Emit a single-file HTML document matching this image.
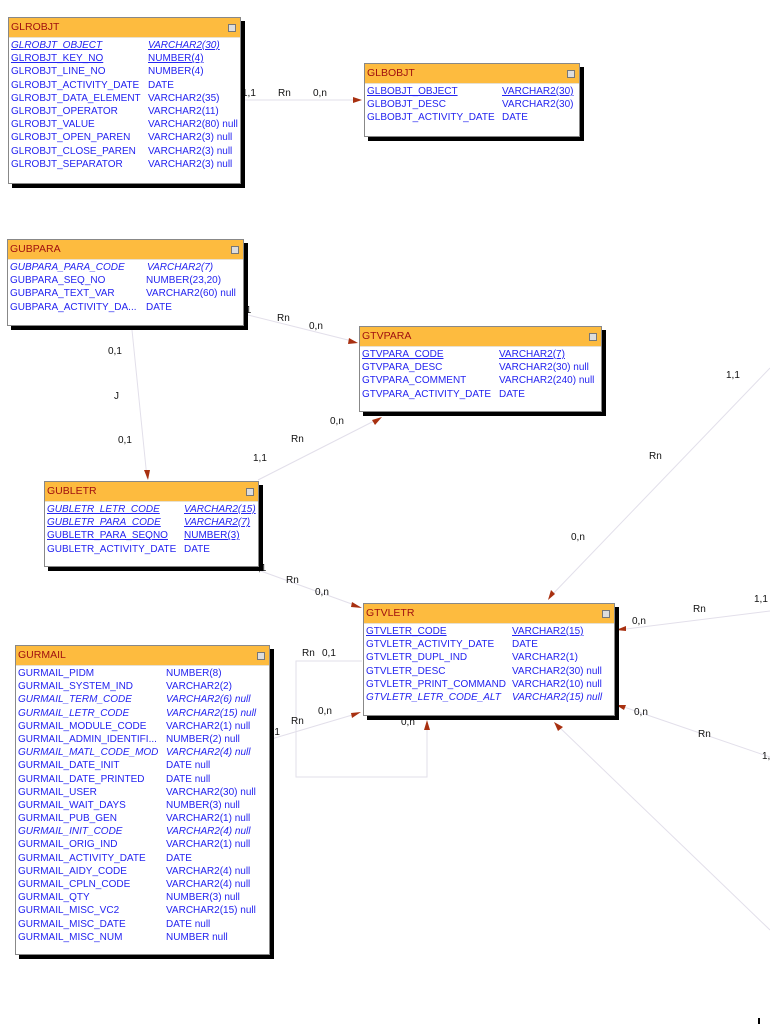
<!DOCTYPE html>
<html><head><meta charset="utf-8">
<style>
html,body{margin:0;padding:0;background:#fff;width:770px;height:1024px;overflow:hidden;position:relative;font-family:"Liberation Sans",sans-serif;}
.t{position:absolute;background:#fff;border:1px solid #888;box-shadow:4px 4px 0 #000;}
.h{height:19px;background:#fdbb3f;color:#a01010;font-size:10.5px;line-height:19px;padding-left:2px;border-bottom:1px solid #e8e0d0;position:relative;}
.h i{position:absolute;right:4px;top:6px;width:6px;height:6px;background:#ddd;border:1px solid #777;}
.r{position:relative;height:13.2px;line-height:13.2px;font-size:10px;color:#2424f0;white-space:nowrap;padding-left:2px;}
.r b{font-weight:normal;position:absolute;}
.u{text-decoration:underline;}
.it{font-style:italic;}
.l{position:absolute;font-size:10px;color:#111;white-space:nowrap;}
svg{position:absolute;left:0;top:0;}
</style></head><body>
<svg width="770" height="1024">
<g stroke="#e2dfea" stroke-width="1" fill="none">
<line x1="240" y1="100" x2="360" y2="100"/>
<line x1="244" y1="314" x2="356" y2="342"/>
<line x1="132" y1="330" x2="147" y2="478"/>
<line x1="258" y1="480" x2="380" y2="418"/>
<line x1="258" y1="570" x2="360" y2="607"/>
<line x1="770" y1="368" x2="549" y2="598"/>
<line x1="770" y1="611" x2="618" y2="630"/>
<line x1="268" y1="740" x2="359" y2="713"/>
<polyline points="362,661 296,661 296,777 427,777 427,724"/>
<line x1="618" y1="705" x2="770" y2="757"/>
<line x1="556" y1="724" x2="770" y2="930"/>
</g>
<g fill="#a83010">
<polygon points="362,100 353,97 353,103"/>
<polygon points="358,343 349,338 348,344"/>
<polygon points="148,480 144,470 150,470"/>
<polygon points="382,417 372,420 375,425"/>
<polygon points="362,608 352,602 351,607"/>
<polygon points="548,600 551,590 555,594"/>
<polygon points="616,630 626,626 626,631"/>
<polygon points="361,712 351,713 352,718"/>
<polygon points="427,720 424,730 430,730"/>
<polygon points="616,705 626,705 624,710"/>
<polygon points="554,722 558,731 563,727"/>
</g>
<rect x="758" y="1018" width="2" height="6" fill="#000"/>
</svg>

<div class="l" style="left:242px;top:88px">1,1</div>
<div class="l" style="left:278px;top:88px">Rn</div>
<div class="l" style="left:313px;top:88px">0,n</div>
<div class="l" style="left:243px;top:305px">,1</div>
<div class="l" style="left:277px;top:313px">Rn</div>
<div class="l" style="left:309px;top:321px">0,n</div>
<div class="l" style="left:108px;top:346px">0,1</div>
<div class="l" style="left:114px;top:391px">J</div>
<div class="l" style="left:118px;top:435px">0,1</div>
<div class="l" style="left:330px;top:416px">0,n</div>
<div class="l" style="left:291px;top:434px">Rn</div>
<div class="l" style="left:253px;top:453px">1,1</div>
<div class="l" style="left:258px;top:563px">,1</div>
<div class="l" style="left:286px;top:575px">Rn</div>
<div class="l" style="left:315px;top:587px">0,n</div>
<div class="l" style="left:726px;top:370px">1,1</div>
<div class="l" style="left:649px;top:451px">Rn</div>
<div class="l" style="left:571px;top:532px">0,n</div>
<div class="l" style="left:754px;top:594px">1,1</div>
<div class="l" style="left:693px;top:604px">Rn</div>
<div class="l" style="left:632px;top:616px">0,n</div>
<div class="l" style="left:302px;top:648px">Rn</div>
<div class="l" style="left:322px;top:648px">0,1</div>
<div class="l" style="left:318px;top:706px">0,n</div>
<div class="l" style="left:291px;top:716px">Rn</div>
<div class="l" style="left:266px;top:727px">0,1</div>
<div class="l" style="left:401px;top:717px">0,n</div>
<div class="l" style="left:634px;top:707px">0,n</div>
<div class="l" style="left:698px;top:729px">Rn</div>
<div class="l" style="left:762px;top:751px">1,</div>

<div class="t" style="left:8px;top:17px;width:231px;height:165px">
<div class="h">GLROBJT<i></i></div>
<div style="height:1px"></div>
<div class="r"><span class="u it">GLROBJT_OBJECT</span><b class="u it" style="left:139px">VARCHAR2(30)</b></div>
<div class="r"><span class="u">GLROBJT_KEY_NO</span><b class="u" style="left:139px">NUMBER(4)</b></div>
<div class="r">GLROBJT_LINE_NO<b style="left:139px">NUMBER(4)</b></div>
<div class="r">GLROBJT_ACTIVITY_DATE<b style="left:139px">DATE</b></div>
<div class="r">GLROBJT_DATA_ELEMENT<b style="left:139px">VARCHAR2(35)</b></div>
<div class="r">GLROBJT_OPERATOR<b style="left:139px">VARCHAR2(11)</b></div>
<div class="r">GLROBJT_VALUE<b style="left:139px">VARCHAR2(80) null</b></div>
<div class="r">GLROBJT_OPEN_PAREN<b style="left:139px">VARCHAR2(3) null</b></div>
<div class="r">GLROBJT_CLOSE_PAREN<b style="left:139px">VARCHAR2(3) null</b></div>
<div class="r">GLROBJT_SEPARATOR<b style="left:139px">VARCHAR2(3) null</b></div>
</div>

<div class="t" style="left:364px;top:63px;width:214px;height:72px">
<div class="h">GLBOBJT<i></i></div>
<div style="height:1px"></div>
<div class="r"><span class="u">GLBOBJT_OBJECT</span><b class="u" style="left:137px">VARCHAR2(30)</b></div>
<div class="r">GLBOBJT_DESC<b style="left:137px">VARCHAR2(30)</b></div>
<div class="r">GLBOBJT_ACTIVITY_DATE<b style="left:137px">DATE</b></div>
</div>

<div class="t" style="left:7px;top:239px;width:235px;height:85px">
<div class="h">GUBPARA<i></i></div>
<div style="height:1px"></div>
<div class="r"><span class="it">GUBPARA_PARA_CODE</span><b class="it" style="left:139px">VARCHAR2(7)</b></div>
<div class="r">GUBPARA_SEQ_NO<b style="left:138px">NUMBER(23,20)</b></div>
<div class="r">GUBPARA_TEXT_VAR<b style="left:138px">VARCHAR2(60) null</b></div>
<div class="r">GUBPARA_ACTIVITY_DA...<b style="left:138px">DATE</b></div>
</div>

<div class="t" style="left:359px;top:326px;width:241px;height:84px">
<div class="h">GTVPARA<i></i></div>
<div style="height:1px"></div>
<div class="r"><span class="u">GTVPARA_CODE</span><b class="u" style="left:139px">VARCHAR2(7)</b></div>
<div class="r">GTVPARA_DESC<b style="left:139px">VARCHAR2(30) null</b></div>
<div class="r">GTVPARA_COMMENT<b style="left:139px">VARCHAR2(240) null</b></div>
<div class="r">GTVPARA_ACTIVITY_DATE<b style="left:139px">DATE</b></div>
</div>

<div class="t" style="left:44px;top:481px;width:213px;height:84px">
<div class="h">GUBLETR<i></i></div>
<div style="height:1px"></div>
<div class="r"><span class="u it">GUBLETR_LETR_CODE</span><b class="u it" style="left:139px">VARCHAR2(15)</b></div>
<div class="r"><span class="u it">GUBLETR_PARA_CODE</span><b class="u it" style="left:139px">VARCHAR2(7)</b></div>
<div class="r"><span class="u">GUBLETR_PARA_SEQNO</span><b class="u" style="left:139px">NUMBER(3)</b></div>
<div class="r">GUBLETR_ACTIVITY_DATE<b style="left:139px">DATE</b></div>
</div>

<div class="t" style="left:363px;top:603px;width:250px;height:111px">
<div class="h">GTVLETR<i></i></div>
<div style="height:1px"></div>
<div class="r"><span class="u">GTVLETR_CODE</span><b class="u" style="left:148px">VARCHAR2(15)</b></div>
<div class="r">GTVLETR_ACTIVITY_DATE<b style="left:148px">DATE</b></div>
<div class="r">GTVLETR_DUPL_IND<b style="left:148px">VARCHAR2(1)</b></div>
<div class="r">GTVLETR_DESC<b style="left:148px">VARCHAR2(30) null</b></div>
<div class="r">GTVLETR_PRINT_COMMAND<b style="left:148px">VARCHAR2(10) null</b></div>
<div class="r"><span class="it">GTVLETR_LETR_CODE_ALT</span><b class="it" style="left:148px">VARCHAR2(15) null</b></div>
</div>

<div class="t" style="left:15px;top:645px;width:253px;height:308px">
<div class="h">GURMAIL<i></i></div>
<div style="height:1px"></div>
<div class="r">GURMAIL_PIDM<b style="left:150px">NUMBER(8)</b></div>
<div class="r">GURMAIL_SYSTEM_IND<b style="left:150px">VARCHAR2(2)</b></div>
<div class="r"><span class="it">GURMAIL_TERM_CODE</span><b class="it" style="left:150px">VARCHAR2(6) null</b></div>
<div class="r"><span class="it">GURMAIL_LETR_CODE</span><b class="it" style="left:150px">VARCHAR2(15) null</b></div>
<div class="r">GURMAIL_MODULE_CODE<b style="left:150px">VARCHAR2(1) null</b></div>
<div class="r">GURMAIL_ADMIN_IDENTIFI...<b style="left:150px">NUMBER(2) null</b></div>
<div class="r"><span class="it">GURMAIL_MATL_CODE_MOD</span><b class="it" style="left:150px">VARCHAR2(4) null</b></div>
<div class="r">GURMAIL_DATE_INIT<b style="left:150px">DATE null</b></div>
<div class="r">GURMAIL_DATE_PRINTED<b style="left:150px">DATE null</b></div>
<div class="r">GURMAIL_USER<b style="left:150px">VARCHAR2(30) null</b></div>
<div class="r">GURMAIL_WAIT_DAYS<b style="left:150px">NUMBER(3) null</b></div>
<div class="r">GURMAIL_PUB_GEN<b style="left:150px">VARCHAR2(1) null</b></div>
<div class="r"><span class="it">GURMAIL_INIT_CODE</span><b class="it" style="left:150px">VARCHAR2(4) null</b></div>
<div class="r">GURMAIL_ORIG_IND<b style="left:150px">VARCHAR2(1) null</b></div>
<div class="r">GURMAIL_ACTIVITY_DATE<b style="left:150px">DATE</b></div>
<div class="r">GURMAIL_AIDY_CODE<b style="left:150px">VARCHAR2(4) null</b></div>
<div class="r">GURMAIL_CPLN_CODE<b style="left:150px">VARCHAR2(4) null</b></div>
<div class="r">GURMAIL_QTY<b style="left:150px">NUMBER(3) null</b></div>
<div class="r">GURMAIL_MISC_VC2<b style="left:150px">VARCHAR2(15) null</b></div>
<div class="r">GURMAIL_MISC_DATE<b style="left:150px">DATE null</b></div>
<div class="r">GURMAIL_MISC_NUM<b style="left:150px">NUMBER null</b></div>
</div>
</body></html>
